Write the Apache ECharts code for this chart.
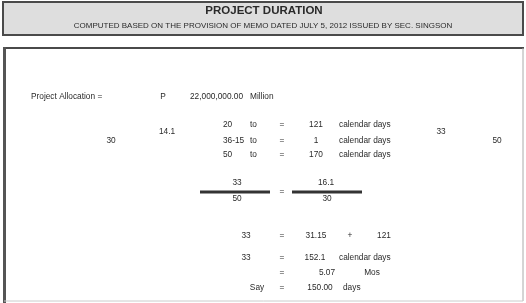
<!DOCTYPE html>
<html>
<head>
<meta charset="utf-8">
<script src="https://cdn.jsdelivr.net/npm/echarts@6/dist/echarts.min.js"></script>
<style>
html, body { margin: 0; padding: 0; background: #fff; }
#chart { width: 526px; height: 303px; }
</style>
</head>
<body>
<div id="chart"></div>
<script>
// texts of the sheet
var title = 'PROJECT DURATION'
var subtitle = 'COMPUTED BASED ON THE PROVISION OF MEMO DATED JULY 5, 2012 ISSUED BY SEC. SINGSON'
var allocation = ['Project Allocation =', 'P', '22,000,000.00', 'Million']
var rangeFrom = ['20', '36-15', '50']
var rangeDays = ['121', '1', '170']
var sideValues = ['30', '14.1', '33', '50']
var fractionLeft = ['33', '50']
var fractionRight = ['16.1', '30']
var sumRow = ['33', '=', '31.15', '+', '121']
var totalRow = ['33', '=', '152.1', 'calendar days']
var monthsRow = ['=', '5.07', 'Mos']
var sayRow = ['Say', '=', '150.00', 'days']

var myChart = echarts.init(document.getElementById('chart'))
var font = '8.3px "Liberation Sans", Arial, sans-serif'
var ink = '#2a2a2a'

function txt (s, x, y, align, f) {
  return {
    type: 'text',
    x: x,
    y: y,
    style: {
      text: s,
      fill: ink,
      font: f || font,
      textAlign: align || 'center',
      textVerticalAlign: 'middle'
    }
  }
}
function line (x1, y1, x2, y2, w, c) {
  return {
    type: 'line',
    shape: { x1: x1, y1: y1, x2: x2, y2: y2 },
    style: { stroke: c || '#444', lineWidth: w || 1 }
  }
}

var g = []
// header box
g.push({
  type: 'rect',
  shape: { x: 3, y: 2, width: 520, height: 33 },
  style: { fill: '#dedede', stroke: '#4a4a4a', lineWidth: 2 }
})
g.push(txt(title, 264, 11, 'center', 'bold 11.5px "Liberation Sans", Arial, sans-serif'))
g.push(txt(subtitle, 263, 26, 'center', '8px "Liberation Sans", Arial, sans-serif'))

// main box
g.push(line(3, 48, 524, 48, 2, '#4a4a4a'))
g.push(line(4.5, 47, 4.5, 303, 3, '#555'))
g.push(line(523, 48, 523, 301, 1, '#aaa'))
g.push(line(4, 301, 523, 301, 1, '#ccc'))

// allocation row
g.push(txt(allocation[0], 31, 97, 'left'))
g.push(txt(allocation[1], 163, 97))
g.push(txt(allocation[2], 190, 97, 'left'))
g.push(txt(allocation[3], 250, 97, 'left'))

// ranges
g.push(txt(sideValues[0], 111, 141))
g.push(txt(sideValues[1], 167, 132))
var rowY = [125, 141, 155]
rangeFrom.forEach(function (v, i) {
  g.push(txt(v, 223, rowY[i], 'left'))
  g.push(txt('to', 250, rowY[i], 'left'))
  g.push(txt('=', 282, rowY[i]))
  g.push(txt(rangeDays[i], 316, rowY[i]))
  g.push(txt('calendar days', 339, rowY[i], 'left'))
})
g.push(txt(sideValues[2], 441, 132))
g.push(txt(sideValues[3], 497, 141))

// ratio
g.push(line(200, 192, 270, 192, 3, '#333'))
g.push(txt(fractionLeft[0], 237, 183))
g.push(txt(fractionLeft[1], 237, 199))
g.push(txt('=', 282, 192))
g.push(line(292, 192, 362, 192, 3, '#333'))
g.push(txt(fractionRight[0], 326, 183))
g.push(txt(fractionRight[1], 327, 199))

// result rows
g.push(txt(sumRow[0], 246, 236))
g.push(txt(sumRow[1], 282, 236))
g.push(txt(sumRow[2], 316, 236))
g.push(txt(sumRow[3], 350, 236))
g.push(txt(sumRow[4], 384, 236))

g.push(txt(totalRow[0], 246, 258))
g.push(txt(totalRow[1], 282, 258))
g.push(txt(totalRow[2], 315, 258))
g.push(txt(totalRow[3], 339, 258, 'left'))

g.push(txt(monthsRow[0], 282, 273))
g.push(txt(monthsRow[1], 327, 273))
g.push(txt(monthsRow[2], 372, 273))

g.push(txt(sayRow[0], 257, 288))
g.push(txt(sayRow[1], 282, 288))
g.push(txt(sayRow[2], 320, 288))
g.push(txt(sayRow[3], 343, 288, 'left'))

myChart.setOption({
  backgroundColor: '#fff',
  animation: false,
  graphic: g
})
</script>
</body>
</html>
